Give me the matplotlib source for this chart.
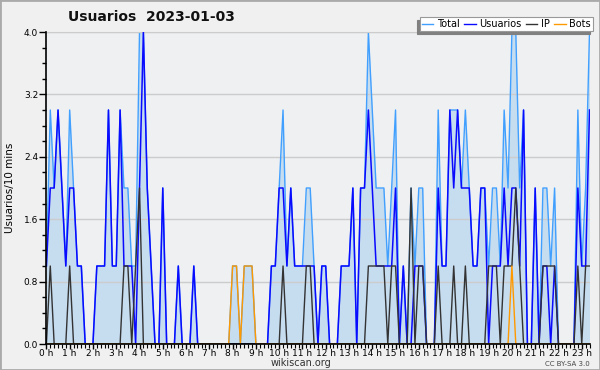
import matplotlib
matplotlib.use("Agg")
import matplotlib.pyplot as plt
from matplotlib.lines import Line2D
from matplotlib.patches import Rectangle
import numpy as np

# Values per 10-minute interval (index 0 = 00:00)
total = [1, 3, 2, 3, 2, 1, 3, 2, 1, 1, 0, 0, 0, 1, 1, 1, 3, 1, 1, 3,
         2, 2, 1, 1, 4, 4, 2, 1, 0, 0, 2, 0, 0, 0, 1, 0, 0, 0, 1, 0,
         0, 0, 0, 0, 0, 0, 0, 0, 1, 1, 0, 1, 1, 1, 0, 0, 0, 0, 1, 1,
         2, 3, 1, 2, 1, 1, 1, 2, 2, 1, 0, 1, 1, 0, 0, 0, 1, 1, 1, 2,
         0, 2, 2, 4, 3, 2, 2, 2, 1, 2, 3, 0, 1, 0, 2, 1, 2, 2, 0, 0,
         0, 3, 1, 1, 3, 3, 3, 2, 3, 2, 1, 1, 2, 2, 1, 2, 2, 1, 3, 2,
         4, 4, 2, 3, 0, 0, 2, 0, 2, 2, 1, 2, 0, 0, 0, 0, 0, 3, 1, 2,
         4]
usuarios = [1, 2, 2, 3, 2, 1, 2, 2, 1, 1, 0, 0, 0, 1, 1, 1, 3, 1, 1, 3,
            1, 1, 1, 0, 2, 4, 2, 1, 0, 0, 2, 0, 0, 0, 1, 0, 0, 0, 1, 0,
            0, 0, 0, 0, 0, 0, 0, 0, 0, 0, 0, 0, 0, 0, 0, 0, 0, 0, 1, 1,
            2, 2, 1, 2, 1, 1, 1, 1, 1, 1, 0, 1, 1, 0, 0, 0, 1, 1, 1, 2,
            0, 2, 2, 3, 2, 1, 1, 1, 1, 1, 2, 0, 1, 0, 0, 1, 1, 1, 0, 0,
            0, 2, 1, 1, 3, 2, 3, 2, 2, 2, 1, 1, 2, 2, 0, 1, 1, 1, 2, 1,
            2, 2, 1, 3, 0, 0, 2, 0, 1, 1, 0, 1, 0, 0, 0, 0, 0, 2, 1, 1,
            3]
ip = [0, 1, 0, 0, 0, 0, 1, 0, 0, 0, 0, 0, 0, 0, 0, 0, 0, 0, 0, 0,
      1, 1, 0, 1, 2, 0, 0, 0, 0, 0, 0, 0, 0, 0, 0, 0, 0, 0, 0, 0,
      0, 0, 0, 0, 0, 0, 0, 0, 0, 0, 0, 0, 0, 0, 0, 0, 0, 0, 0, 0,
      0, 1, 0, 0, 0, 0, 0, 1, 1, 0, 0, 0, 0, 0, 0, 0, 0, 0, 0, 0,
      0, 0, 0, 1, 1, 1, 1, 1, 0, 1, 1, 0, 0, 0, 2, 0, 1, 1, 0, 0,
      0, 1, 0, 0, 0, 1, 0, 0, 1, 0, 0, 0, 0, 0, 1, 1, 1, 0, 1, 1,
      1, 2, 1, 0, 0, 0, 0, 0, 1, 1, 1, 1, 0, 0, 0, 0, 0, 1, 0, 1,
      1]
bots = [0, 0, 0, 0, 0, 0, 0, 0, 0, 0, 0, 0, 0, 0, 0, 0, 0, 0, 0, 0,
        0, 0, 0, 0, 0, 0, 0, 0, 0, 0, 0, 0, 0, 0, 0, 0, 0, 0, 0, 0,
        0, 0, 0, 0, 0, 0, 0, 0, 1, 1, 0, 1, 1, 1, 0, 0, 0, 0, 0, 0,
        0, 0, 0, 0, 0, 0, 0, 0, 0, 0, 0, 0, 0, 0, 0, 0, 0, 0, 0, 0,
        0, 0, 0, 0, 0, 0, 0, 0, 0, 0, 0, 0, 0, 0, 0, 0, 0, 0, 0, 0,
        0, 0, 0, 0, 0, 0, 0, 0, 0, 0, 0, 0, 0, 0, 0, 0, 0, 0, 0, 0,
        1, 0, 0, 0, 0, 0, 0, 0, 0, 0, 0, 0, 0, 0, 0, 0, 0, 0, 0, 0,
        0]
hour_labels = [f"{h} h" for h in range(24)]
series_names = ["Total", "Usuarios", "IP", "Bots"]
y_ticks = [0.0, 0.8, 1.6, 2.4, 3.2, 4.0]

steps = np.arange(len(total))

c_fill = "#c6dcef"
c_total = "#41a0ff"
c_user = "#0a0aff"
c_ip = "#333333"
c_bots = "#ff9900"

fig = plt.figure(figsize=(6, 3.7), dpi=100, facecolor="#f0f0f0")
W, H = 600, 370
x0, x1, ytop, ybot = 46.4, 589.5, 32, 344
ax = fig.add_axes([x0 / W, 1 - ybot / H, (x1 - x0) / W, (ybot - ytop) / H])
ax.set_facecolor("#eef0f2")

ax.fill_between(steps, total, 0, color=c_fill, lw=0, zorder=1)
ax.plot(steps, total, color=c_total, lw=1.0, zorder=2)
ax.plot(steps, usuarios, color=c_user, lw=1.1, zorder=3)
ax.plot(steps, ip, color=c_ip, lw=1.0, zorder=4)
ax.plot(steps, bots, color=c_bots, lw=1.0, zorder=5)

ax.set_xlim(0, len(total) - 1)
ax.set_ylim(0, 4.0)
ax.set_axisbelow("line")
ax.yaxis.grid(True, which="major", color="#cccccc", lw=1)

ax.set_yticks(y_ticks)
ax.set_yticklabels([f"{v:.1f}" for v in y_ticks])
ax.set_yticks(np.arange(0, 4.01, 0.2), minor=True)
ax.set_xticks(np.arange(0, 24 * 6, 6)[: len(hour_labels)])
ax.set_xticklabels(hour_labels)
ax.set_xticks(steps, minor=True)
ax.tick_params(axis="y", which="major", length=5, width=1, labelsize=6.5, pad=1)
ax.tick_params(axis="y", which="minor", length=3, width=1)
ax.tick_params(axis="x", which="major", length=3.5, width=1, labelsize=6.5, pad=0.3)
ax.tick_params(axis="x", which="minor", length=3, width=0.8)

ax.spines["right"].set_visible(False)
ax.spines["top"].set_color("#cccccc")
for s in ["left", "bottom"]:
    ax.spines[s].set_color("black")
    ax.spines[s].set_linewidth(1.2)
    ax.spines[s].set_zorder(10)

handles = [Line2D([], [], color=c, lw=1.0) for c in [c_total, c_user, c_ip, c_bots]]
leg = fig.legend(handles, series_names, ncol=4, loc="upper right",
                 bbox_to_anchor=(593 / W, 1 - 17 / H), fontsize=7,
                 frameon=True, fancybox=False, framealpha=1,
                 edgecolor="#999999", borderpad=0.2, handlelength=1.2,
                 handletextpad=0.4, columnspacing=0.4, borderaxespad=0,
                 shadow={"ox": -2.2, "oy": -2.2, "facecolor": "#808080",
                         "edgecolor": "#808080", "alpha": 1})
leg.get_frame().set_linewidth(0.8)

fig.text(151 / W, 1 - 17 / H, "Usuarios  2023-01-03", ha="center", va="center",
         fontsize=10, fontweight="bold", color="#111111")
fig.text(10 / W, 1 - 188 / H, "Usuarios/10 mins", rotation=90, ha="center",
         va="center", fontsize=7.5)
fig.text(301 / W, 1 - 362.5 / H, "wikiscan.org", ha="center", va="center",
         fontsize=7, color="#333333")
fig.text(590 / W, 1 - 364 / H, "CC BY-SA 3.0", ha="right", va="center",
         fontsize=5, color="#444444")

fig.patches.append(Rectangle((0, 0), 1, 1, transform=fig.transFigure,
                             fill=False, edgecolor="#aaaaaa", lw=2))

fig.savefig("out.png", dpi=100, facecolor=fig.get_facecolor())
